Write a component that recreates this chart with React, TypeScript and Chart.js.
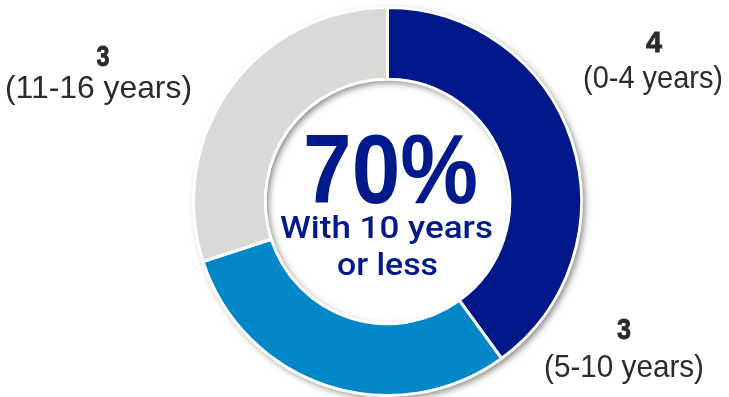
import React, { useEffect, useRef } from "react";
import { Chart, registerables } from "chart.js";

Chart.register(...registerables);

// ---- data ----
const categories = ["0-4 years", "5-10 years", "11-16 years"];
const counts = [4, 3, 3];
const centerValue = "70%";
const centerLines = ["With 10 years", "or less"];

// ---- styles ----
const sliceColors = ["#00188a", "#0087c8", "#d9d9d5"];
const navy = "#001a8c";
const labelColor = "#2b2b2b";
const numberFont = 'bold 29px "Liberation Sans", Arial, sans-serif';
const labelFont = '32px "Liberation Sans", Arial, sans-serif';

// label layout: centre x, baselines, text widths
const labelLayout = [
  { x: 654, yNum: 52, wNum: 16, xCat: 653, yCat: 88, wCat: 140 },
  { x: 624, yNum: 339, wNum: 14, xCat: 624, yCat: 377, wCat: 160 },
  { x: 103, yNum: 66, wNum: 13, xCat: 98.5, yCat: 98, wCat: 187 },
];
const centerLayout = [
  { x: 390.5, y: 203, w: 175, font: 'bold 99px "Liberation Sans", Arial, sans-serif' },
  { x: 386.5, y: 238, w: 213, font: '500 31px Roboto, "Liberation Sans", sans-serif' },
  { x: 387.5, y: 275, w: 101, font: '500 31px Roboto, "Liberation Sans", sans-serif' },
];

function drawFitted(ctx: CanvasRenderingContext2D, text: string, x: number, y: number, font: string, w: number, stroke = 0) {
  ctx.save();
  ctx.font = font;
  const m = ctx.measureText(text).width || 1;
  ctx.translate(x, y);
  ctx.scale(w / m, 1);
  ctx.textAlign = "center";
  ctx.textBaseline = "alphabetic";
  ctx.fillText(text, 0, 0);
  if (stroke > 0) {
    ctx.strokeStyle = ctx.fillStyle;
    ctx.lineWidth = stroke;
    ctx.strokeText(text, 0, 0);
  }
  ctx.restore();
}

const shadowPlugin = {
  id: "ringShadow",
  beforeDatasetsDraw(chart: any) {
    const arc = chart.getDatasetMeta(0).data[0];
    if (!arc) return;
    const { x, y, outerRadius, innerRadius } = arc;
    const ctx = chart.ctx;
    ctx.save();
    ctx.beginPath();
    ctx.arc(x, y, outerRadius, 0, Math.PI * 2);
    ctx.arc(x, y, innerRadius, 0, Math.PI * 2, true);
    ctx.closePath();
    ctx.shadowColor = "rgba(0,0,0,0.5)";
    ctx.shadowBlur = 7;
    ctx.shadowOffsetX = 3;
    ctx.shadowOffsetY = 3;
    ctx.fillStyle = "#ffffff";
    ctx.fill();
    ctx.restore();
  },
};

const textPlugin = {
  id: "texts",
  afterDatasetsDraw(chart: any) {
    const ctx = chart.ctx;
    ctx.save();
    ctx.fillStyle = navy;
    const centerTexts = [centerValue, ...centerLines];
    centerTexts.forEach((t, i) => {
      const c = centerLayout[i];
      drawFitted(ctx, t, c.x, c.y, c.font, c.w);
    });
    ctx.fillStyle = labelColor;
    counts.forEach((v, i) => {
      const p = labelLayout[i];
      drawFitted(ctx, String(v), p.x, p.yNum, numberFont, p.wNum, 0.8);
      drawFitted(ctx, `(${categories[i]})`, p.xCat, p.yCat, labelFont, p.wCat);
    });
    ctx.restore();
  },
};

export default function App() {
  const ref = useRef<HTMLCanvasElement>(null);
  useEffect(() => {
    if (!ref.current) return;
    const chart = new Chart(ref.current, {
      type: "doughnut",
      data: {
        labels: categories,
        datasets: [
          {
            data: counts,
            backgroundColor: sliceColors,
            borderColor: "#ffffff",
            borderWidth: 3,
            hoverOffset: 0,
          },
        ],
      },
      options: {
        responsive: false,
        animation: false,
        cutout: "63%",
        layout: { padding: { left: 192, right: 146, top: 6, bottom: 0 } },
        plugins: { legend: { display: false }, tooltip: { enabled: false } },
      },
      plugins: [shadowPlugin, textPlugin],
    });
    return () => chart.destroy();
  }, []);
  return (
    <div style={{ position: "absolute", left: 0, top: 0, width: 729, height: 397, background: "#fff" }}>
      <canvas ref={ref} width={729} height={397} />
    </div>
  );
}
